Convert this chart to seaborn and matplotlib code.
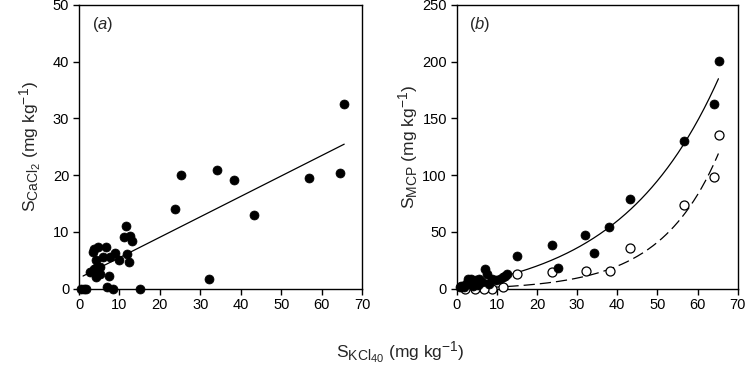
import numpy as np
import pandas as pd
import matplotlib
matplotlib.use("Agg")
import matplotlib.pyplot as plt
import seaborn as sns

try:
    import matplotlib._mathtext as _mt
    _mt.SHRINK_FACTOR = 0.8
except Exception:
    pass

# ---- data ----
# panel (a): S_CaCl2 vs S_KCl40
a_x = [65.6, 64.5, 57.0, 34.2, 38.3, 25.3, 23.8, 43.3, 32.2, 15.2,
       11.7, 11.2, 12.7, 13.2, 11.8, 12.3, 9.9, 8.8, 7.7, 6.0,
       6.8, 4.6, 3.7, 3.5, 4.3, 5.2, 4.3, 3.7, 2.8, 4.2,
       5.3, 7.5, 7.0, 8.5, 0.6, 1.2, 1.8]
a_y = [32.6, 20.3, 19.5, 20.9, 19.1, 20.1, 14.1, 12.9, 1.6, 0.0,
       11.1, 9.1, 9.2, 8.4, 6.1, 4.6, 5.1, 6.2, 5.6, 5.5,
       7.4, 7.4, 6.9, 6.4, 5.0, 3.8, 3.6, 3.4, 2.9, 2.1,
       2.5, 2.2, 0.3, 0.0, 0.0, 0.0, 0.0]
a_fit = {"slope": 0.36, "intercept": 1.84, "xmin": 1.0, "xmax": 65.6}

# panel (b): S_MCP vs S_KCl40
b_fill_x = [65.4, 64.2, 56.6, 43.1, 38.0, 32.0, 34.1, 23.7, 25.2, 15.1,
            7.1, 7.65, 12.6, 12.0, 10.9, 9.7, 8.9, 5.6, 3.5, 2.7,
            4.8, 6.4, 8.1, 2.3, 1.1, 0.7, 1.9, 4.0, 5.2, 11.5]
b_fill_y = [200.6, 162.3, 130.3, 79.1, 53.8, 47.4, 31.2, 38.8, 18.2, 28.8,
            16.8, 13.2, 13.2, 11.2, 8.8, 7.4, 8.8, 8.8, 8.8, 8.8,
            7.4, 5.9, 4.4, 4.4, 2.1, 0.9, 1.5, 2.1, 2.9, 10.0]
b_open_x = [65.4, 64.2, 56.6, 43.1, 38.1, 32.1, 23.7, 15.0, 11.6, 8.7,
            6.9, 4.6, 2.1]
b_open_y = [135.0, 97.9, 73.2, 35.9, 15.3, 15.3, 14.7, 13.2, 0.9, 0.0,
            0.0, 0.0, 0.0]
# fitted curves y = p * exp(q * x) + r
b_fit_solid = {"p": 14.55, "q": 0.040, "r": -12.5, "xmin": 0.5, "xmax": 65.2}
b_fit_dash = {"p": 1.34, "q": 0.069, "r": -1.44, "xmin": 0.5, "xmax": 65.2}

x_ticks = [0, 10, 20, 30, 40, 50, 60, 70]
a_yticks = [0, 10, 20, 30, 40, 50]
b_yticks = [0, 50, 100, 150, 200, 250]

# ---- style ----
sns.set_theme(style="ticks")
plt.rcParams["font.family"] = ["Liberation Sans", "DejaVu Sans"]
plt.rcParams["mathtext.fontset"] = "custom"
plt.rcParams["mathtext.rm"] = "Liberation Sans"
plt.rcParams["mathtext.it"] = "Liberation Sans:italic"
plt.rcParams["mathtext.default"] = "regular"

fig = plt.figure(figsize=(7.5, 3.65), dpi=100)
bottom = (365 - 288.5) / 365
height = 283.5 / 365
ax1 = fig.add_axes([79 / 750, bottom, 283 / 750, height])
ax2 = fig.add_axes([456.7 / 750, bottom, 281 / 750, height])

ms = 42
# panel a
da = pd.DataFrame({"x": a_x, "y": a_y})
sns.scatterplot(data=da, x="x", y="y", ax=ax1, color="black", s=ms,
                edgecolor="black", linewidth=0.5, clip_on=False, zorder=3)
lx = np.linspace(a_fit["xmin"], a_fit["xmax"], 50)
la = pd.DataFrame({"x": lx, "y": a_fit["slope"] * lx + a_fit["intercept"]})
sns.lineplot(data=la, x="x", y="y", ax=ax1, color="black", linewidth=0.9)

# panel b
dbf = pd.DataFrame({"x": b_fill_x, "y": b_fill_y})
dbo = pd.DataFrame({"x": b_open_x, "y": b_open_y})
sx = np.linspace(b_fit_solid["xmin"], b_fit_solid["xmax"], 200)
ls = pd.DataFrame({"x": sx, "y": b_fit_solid["p"] * np.exp(b_fit_solid["q"] * sx) + b_fit_solid["r"]})
dx = np.linspace(b_fit_dash["xmin"], b_fit_dash["xmax"], 200)
ld = pd.DataFrame({"x": dx, "y": b_fit_dash["p"] * np.exp(b_fit_dash["q"] * dx) + b_fit_dash["r"]})
sns.lineplot(data=ls, x="x", y="y", ax=ax2, color="black", linewidth=0.9)
sns.lineplot(data=ld, x="x", y="y", ax=ax2, color="black", linewidth=0.9,
             dashes=False)
ax2.lines[-1].set_dashes([9, 4])
sns.scatterplot(data=dbo, x="x", y="y", ax=ax2, color="white", s=ms,
                edgecolor="black", linewidth=0.9, clip_on=False, zorder=3)
sns.scatterplot(data=dbf, x="x", y="y", ax=ax2, color="black", s=ms,
                edgecolor="black", linewidth=0.5, clip_on=False, zorder=4)

for ax, yt, lab in [(ax1, a_yticks, "a"), (ax2, b_yticks, "b")]:
    ax.set_xlim(0, 70)
    ax.set_ylim(yt[0], yt[-1])
    ax.set_xticks(x_ticks)
    ax.set_yticks(yt)
    ax.set_xlabel("")
    ax.set_ylabel("")
    for sp in ax.spines.values():
        sp.set_visible(True)
        sp.set_color("black")
        sp.set_linewidth(1.0)
    ax.tick_params(axis="both", direction="out", length=4, width=1.0,
                   labelsize=10.5, colors="black", pad=3)
    ax.text(0.045, 0.93, r"($\mathit{" + lab + r"}$)", transform=ax.transAxes,
            ha="left", va="center", fontsize=12)

lab_fs = 12.5
fig.text(30 / 750, 1 - 147 / 365, r"$\mathregular{S_{CaCl_2}}$ (mg kg$^{-1}$)",
         rotation=90, ha="center", va="center", fontsize=lab_fs)
fig.text(408 / 750, 1 - 147 / 365, r"$\mathregular{S_{MCP}}$ (mg kg$^{-1}$)",
         rotation=90, ha="center", va="center", fontsize=lab_fs)
fig.text(400 / 750, 1 - 352 / 365, r"$\mathregular{S_{KCl_{40}}}$ (mg kg$^{-1}$)",
         ha="center", va="center", fontsize=lab_fs)

fig.savefig("out.png", dpi=100)
